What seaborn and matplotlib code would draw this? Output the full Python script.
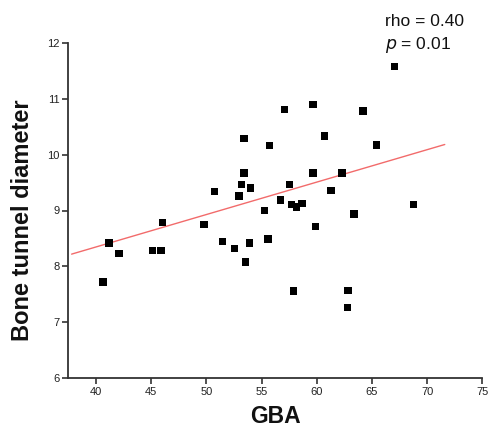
import matplotlib
matplotlib.use("Agg")
import matplotlib.pyplot as plt
import seaborn as sns
import pandas as pd

# data
gba = [53.42, 55.75, 53.42, 53.21, 54.03, 50.76, 52.96, 56.75, 55.25, 67.02,
       57.11, 59.67, 64.18, 60.73, 65.39, 59.67, 62.30, 57.53, 61.28, 57.71,
       58.68, 58.17, 68.78, 46.05, 49.79, 41.18, 51.49, 53.93, 55.59, 52.57,
       45.11, 45.89, 42.09, 53.54, 40.63, 63.39, 59.89, 57.92, 62.85, 62.79]
diameter = [10.29, 10.16, 9.67, 9.47, 9.40, 9.34, 9.26, 9.19, 9.00, 11.57,
            10.81, 10.90, 10.78, 10.33, 10.17, 9.67, 9.67, 9.47, 9.36, 9.11,
            9.13, 9.06, 9.11, 8.79, 8.75, 8.42, 8.44, 8.42, 8.49, 8.32,
            8.28, 8.28, 8.23, 8.08, 7.72, 8.94, 8.71, 7.56, 7.57, 7.27]
fit_x = [37.8, 71.6]
fit_y = [8.22, 10.18]
x_ticks = [40, 45, 50, 55, 60, 65, 70, 75]
y_ticks = [6, 7, 8, 9, 10, 11, 12]

sns.set_theme(style="ticks")
plt.rcParams['font.family'] = ['Liberation Sans', 'DejaVu Sans']

df = pd.DataFrame({"GBA": gba, "Bone tunnel diameter": diameter})
fit_df = pd.DataFrame({"x": fit_x, "y": fit_y})

fig = plt.figure(figsize=(4.91, 4.34), dpi=100)
ax = fig.add_axes([68.3 / 491, 1 - 378.3 / 434, (482.3 - 68.3) / 491, (378.3 - 42.7) / 434])

sns.lineplot(data=fit_df, x="x", y="y", ax=ax, color="#f26b6b", linewidth=1.0)
sns.scatterplot(data=df, x="GBA", y="Bone tunnel diameter", ax=ax, marker="s",
                s=28, color="black", edgecolor="none", zorder=3)

ax.set_xlim(37.5, 75)
ax.set_ylim(6, 12)
ax.set_xticks(x_ticks)
ax.set_yticks(y_ticks)
ax.tick_params(axis="both", direction="out", length=4, width=1.2, colors="#333333",
               labelsize=8, labelcolor="#222222", pad=2)
for s in ["top", "right"]:
    ax.spines[s].set_visible(False)
for s in ["left", "bottom"]:
    ax.spines[s].set_linewidth(1.3)
    ax.spines[s].set_color("#333333")

ax.set_xlabel("GBA", fontsize=16.5, fontweight="bold", color="#111111", labelpad=6)
ax.set_ylabel("Bone tunnel diameter", fontsize=17, fontweight="bold", color="#111111")
ax.yaxis.set_label_coords(-0.083, 0.47)

fig.text(385 / 491, 1 - 21.5 / 434, "rho = 0.40", fontsize=12.5, va="center", ha="left", color="#111111")
fig.text(385 / 491, 1 - 45 / 434, r"$\it{p}$ = 0.01", fontsize=12.5, va="center", ha="left", color="#111111")

fig.savefig("out.png", dpi=100)
